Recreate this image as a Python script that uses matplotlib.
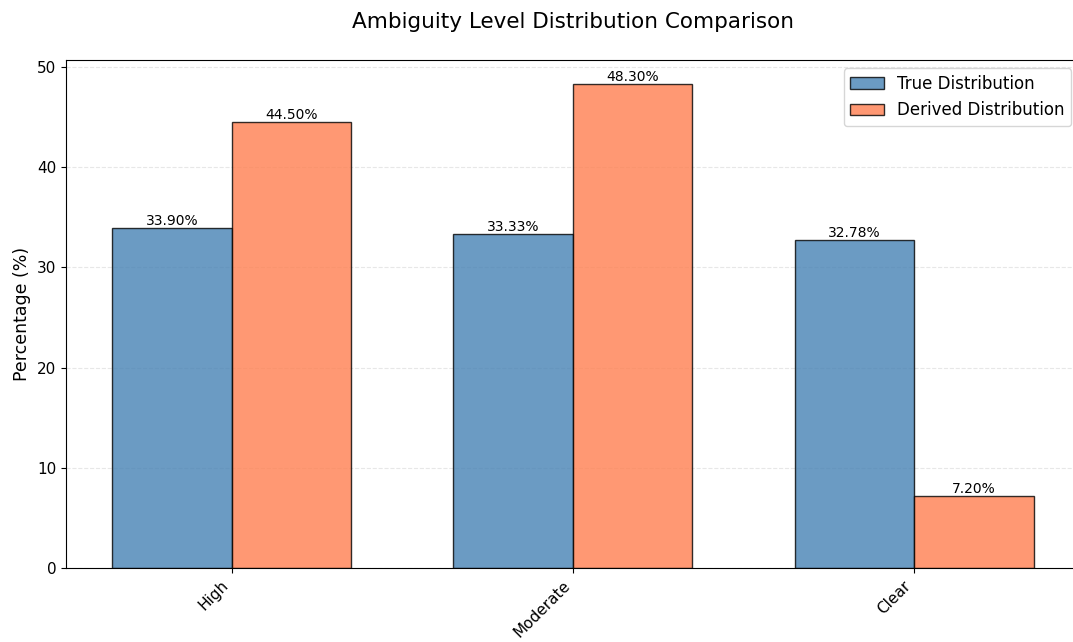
import numpy as np
import matplotlib
matplotlib.use("Agg")
import matplotlib.pyplot as plt

categories = ["High", "Moderate", "Clear"]
true_dist = [33.90, 33.33, 32.78]
derived_dist = [44.50, 48.30, 7.20]

fig = plt.figure(figsize=(10.73, 6.42), dpi=100)
ax = fig.add_axes([66 / 1073, 1 - 568 / 642, 1013.6 / 1073, 508 / 642])

x = np.arange(len(categories))
width = 0.35

bars1 = ax.bar(x - width / 2, true_dist, width, label="True Distribution",
               color="steelblue", alpha=0.8, edgecolor="black", linewidth=1)
bars2 = ax.bar(x + width / 2, derived_dist, width, label="Derived Distribution",
               color="coral", alpha=0.8, edgecolor="black", linewidth=1)

for bars in (bars1, bars2):
    for bar in bars:
        h = bar.get_height()
        ax.text(bar.get_x() + bar.get_width() / 2, h, f"{h:.2f}%",
                ha="center", va="bottom", fontsize=10)

ax.set_ylim(0, max(derived_dist) * 1.05)
ax.set_xlim(-0.485, 2.485)
ax.set_ylabel("Percentage (%)", fontsize=12.5)
ax.set_xticks(x)
ax.set_xticklabels(categories, rotation=45, ha="right", fontsize=11)
ax.tick_params(axis="y", labelsize=11)
ax.grid(axis="y", linestyle="--", alpha=0.3)
ax.set_axisbelow(True)
ax.legend(fontsize=12, loc="upper right")
fig.text(573 / 1073, 1 - 22 / 642, "Ambiguity Level Distribution Comparison",
         fontsize=15.5, ha="center", va="center")

fig.savefig("out.png", dpi=100)
